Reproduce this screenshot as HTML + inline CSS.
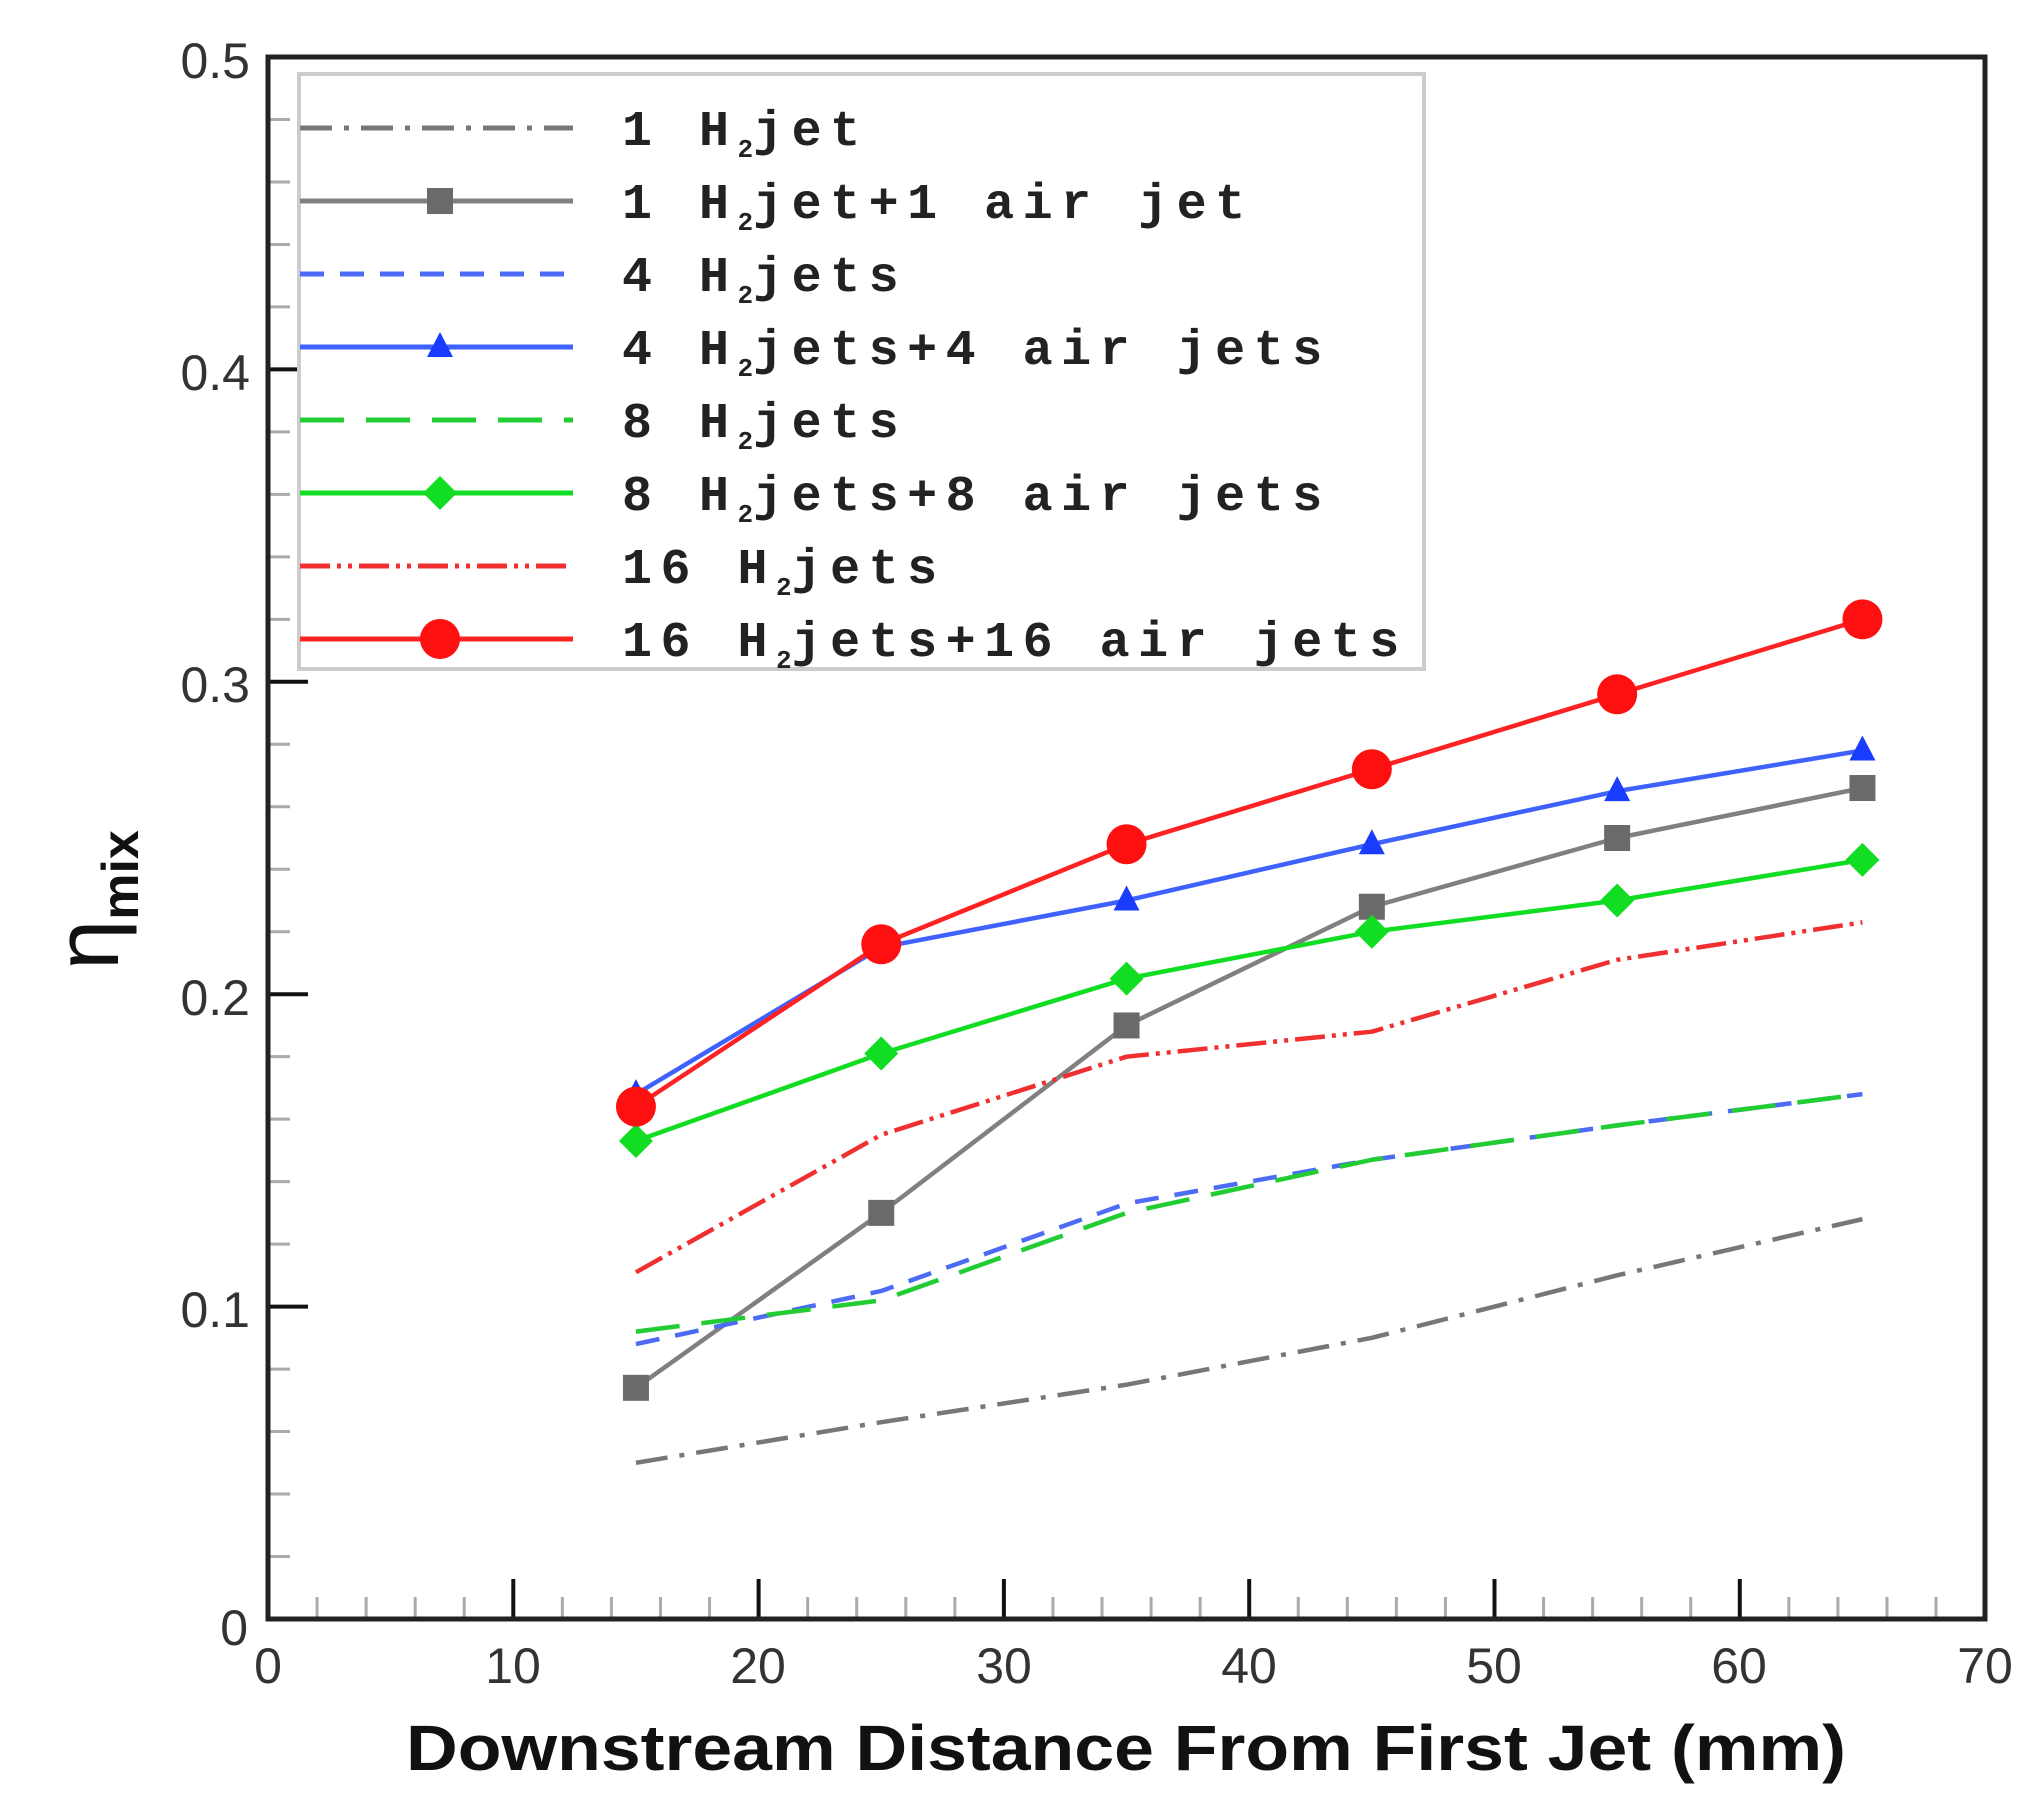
<!DOCTYPE html>
<html><head><meta charset="utf-8"><style>
html,body{margin:0;padding:0;background:#fff;}
svg{display:block;}
.tk{font-family:"Liberation Sans",sans-serif;font-size:50px;fill:#333;}
.lg{font-family:"Liberation Mono",monospace;font-weight:bold;font-size:50px;fill:#222;letter-spacing:8.5px;}
.sub{font-size:26px;letter-spacing:0;}
</style></head><body>
<div id="root"></div>
<script>
const X=x=>268+24.53*x, Y=v=>1619-3124*v, xs=[15,25,35,45,55,65];
const data=[[0.05,0.063,0.075,0.09,0.11,0.128],[0.074,0.13,0.19,0.228,0.25,0.266],[0.088,0.105,0.133,0.147,0.158,0.168],[0.168,0.215,0.23,0.248,0.265,0.278],[0.092,0.102,0.13,0.147,0.158,0.168],[0.153,0.181,0.205,0.22,0.23,0.243],[0.111,0.155,0.18,0.188,0.211,0.223],[0.164,0.216,0.248,0.272,0.296,0.32]];
const styles=[['#777','32 12 5 12'],['#808080',''],['#4d6cf5','24 16'],['#3f62ff',''],['#22cc33','44 22'],['#11dd22',''],['#f03030','30 7 4 7 4 7'],['#ff2222','']];
const labels=[['1 H','jet'],['1 H','jet+1 air jet'],['4 H','jets'],['4 H','jets+4 air jets'],['8 H','jets'],['8 H','jets+8 air jets'],['16 H','jets'],['16 H','jets+16 air jets']];
function mk(t,x,y){
 if(t==2)return `<rect x="${x-13}" y="${y-13}" width="26" height="26" fill="#6a6a6a"/>`;
 if(t==4)return `<polygon points="${x},${y-15} ${x-13},${y+10} ${x+13},${y+10}" fill="#1a3cff"/>`;
 if(t==6)return `<polygon points="${x},${y-17} ${x+17},${y} ${x},${y+17} ${x-17},${y}" fill="#11dd22"/>`;
 if(t==8)return `<circle cx="${x}" cy="${y}" r="20" fill="#ff1010"/>`;
 return '';}
let s='<svg width="2037" height="1807" viewBox="0 0 2037 1807" xmlns="http://www.w3.org/2000/svg"><rect width="2037" height="1807" fill="#fff"/>';
for(let i=0;i<=25;i++){const y=Y(i*0.02);const maj=i%5==0;s+=`<line x1="268" x2="${268+(maj?40:22)}" y1="${y}" y2="${y}" stroke="${maj?'#111':'#aaa'}" stroke-width="${maj?4:3}"/>`;}
for(let i=0;i<=35;i++){const x=X(i*2);const maj=i%5==0;s+=`<line y1="1619" y2="${1619-(maj?40:22)}" x1="${x}" x2="${x}" stroke="${maj?'#111':'#aaa'}" stroke-width="${maj?4:3}"/>`;}
data.forEach((d,i)=>{s+=`<polyline fill="none" stroke-width="4.5" stroke-linejoin="round" stroke="${styles[i][0]}" ${styles[i][1]?`stroke-dasharray="${styles[i][1]}"`:''} points="${d.map((v,j)=>X(xs[j])+','+Y(v)).join(' ')}"/>`;});
[2,4,6,8].forEach(t=>data[t-1].forEach((v,j)=>s+=mk(t,X(xs[j]),Y(v))));
s+='<rect x="268" y="57" width="1717" height="1562" fill="none" stroke="#222" stroke-width="5"/>';
s+='<rect x="299" y="74" width="1125" height="595" fill="#fff" stroke="#ccc" stroke-width="4"/>';
for(let i=0;i<8;i++){const y=128+73*i;
 s+=`<line x1="300" x2="573" y1="${y}" y2="${y}" stroke="${styles[i][0]}" stroke-width="5" ${styles[i][1]?`stroke-dasharray="${styles[i][1]}"`:''}/>`;
 s+=mk(i+1,440,y);
 s+=`<text class="lg" x="622" y="${y+17}">${labels[i][0]}<tspan class="sub" dy="12">2</tspan><tspan dy="-12">${labels[i][1]}</tspan></text>`;}
s+=`<g class="tk" text-anchor="end">
<text x="250" y="78">0.5</text><text x="250" y="390">0.4</text><text x="250" y="702">0.3</text>
<text x="250" y="1015">0.2</text><text x="250" y="1327">0.1</text><text x="248" y="1645">0</text></g>
<g class="tk" text-anchor="middle">
<text x="268" y="1683">0</text><text x="513" y="1683">10</text><text x="758" y="1683">20</text>
<text x="1004" y="1683">30</text><text x="1249" y="1683">40</text><text x="1494" y="1683">50</text>
<text x="1739" y="1683">60</text><text x="1985" y="1683">70</text></g>
<text x="1126" y="1770" text-anchor="middle" font-family="Liberation Sans,sans-serif" font-weight="bold" font-size="64" fill="#111" textLength="1440" lengthAdjust="spacingAndGlyphs">Downstream Distance From First Jet (mm)</text>
<text transform="translate(118,900) rotate(-90)" font-family="Liberation Sans,sans-serif" font-size="70" fill="#111" text-anchor="middle"><tspan font-size="90">η</tspan><tspan font-weight="bold" font-size="52" dy="20">mix</tspan></text></svg>`;
document.getElementById('root').innerHTML=s;
</script>
</body></html>
